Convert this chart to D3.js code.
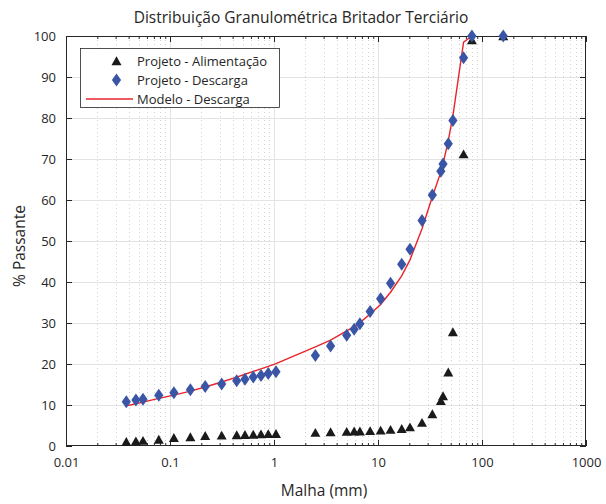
<!DOCTYPE html>
<html><head><meta charset="utf-8">
<script src="https://cdn.jsdelivr.net/npm/d3@7"></script>
<style>
body{margin:0;background:#fff;}
svg text{font-family:"Open Sans","Noto Sans",sans-serif;fill:#262626;}
</style></head>
<body>
<svg id="c" width="606" height="504"></svg>
<script>
const title = "Distribuição Granulométrica Britador Terciário";
const xLabel = "Malha (mm)";
const yLabel = "% Passante";
const xTicks = [0.01, 0.1, 1, 10, 100, 1000];
const xTickLabels = ["0.01", "0.1", "1", "10", "100", "1000"];
const yTicks = [0,10,20,30,40,50,60,70,80,90,100];
const seriesNames = ["Projeto - Alimentação", "Projeto - Descarga", "Modelo - Descarga"];

const sizes = [0.038,0.047,0.055,0.078,0.109,0.157,0.218,0.314,0.438,0.526,0.632,0.75,0.881,1.045,
  2.5,3.5,5.0,5.9,6.7,8.4,10.6,13.2,16.9,20.3,26.5,33.3,40.2,42.2,47.4,52.5,66.5,80,160];
const alimentacao = [1.05,1.2,1.3,1.6,2.0,2.2,2.5,2.6,2.7,2.75,2.8,2.9,2.95,3.0,
  3.25,3.4,3.5,3.6,3.6,3.7,3.8,4.0,4.2,4.6,5.7,7.8,11.0,12.2,18.0,27.8,71.2,99.0,100];
const descarga = [10.8,11.2,11.4,12.4,13.0,13.7,14.5,15.1,15.9,16.3,16.8,17.2,17.7,18.1,
  22.1,24.4,27.0,28.5,29.8,32.8,35.9,39.7,44.3,48.0,55.0,61.2,67.0,68.8,73.7,79.4,94.7,100,100];
const modeloSizes = sizes.slice(0, 32);
const modelo = [9.8,10.3,10.7,11.6,12.4,13.4,14.4,15.6,16.8,17.5,18.2,18.8,19.4,20.1,
  24.2,25.8,28.1,29.1,30.1,32.2,34.5,37.5,41.5,45.4,53.0,60.8,66.8,68.8,74.5,80.5,98.5,100];

const svg = d3.select("#c");
const L=66, R=586, T=36, B=446;
const x = d3.scaleLog().domain([0.01,1000]).range([L,R]);
const y = d3.scaleLinear().domain([0,100]).range([B,T]);

const minor = [];
for (let e=-2; e<3; e++) for (let m=2; m<10; m++) minor.push(m*Math.pow(10,e));

const g = svg.append("g");
g.selectAll(".mg").data(minor).join("line")
  .attr("x1",d=>Math.round(x(d))+0.5).attr("x2",d=>Math.round(x(d))+0.5)
  .attr("y1",T).attr("y2",B)
  .attr("stroke","#d2d2d2").attr("stroke-width",1).attr("stroke-dasharray","1,3");
g.selectAll(".xg").data(xTicks.slice(1,-1)).join("line")
  .attr("x1",d=>Math.round(x(d))+0.5).attr("x2",d=>Math.round(x(d))+0.5)
  .attr("y1",T).attr("y2",B).attr("stroke","#e3e3e3");
g.selectAll(".yg").data(yTicks.slice(1,-1)).join("line")
  .attr("y1",d=>Math.round(y(d))+0.5).attr("y2",d=>Math.round(y(d))+0.5)
  .attr("x1",L).attr("x2",R).attr("stroke","#e3e3e3");

const ax = d3.axisBottom(x).tickValues(xTicks).tickFormat((d,i)=>xTickLabels[i]).tickSizeInner(-6).tickSizeOuter(0).tickPadding(12);
const xa = svg.append("g").attr("transform",`translate(0,${B})`).call(ax);
xa.select(".domain").remove();
xa.selectAll("text").attr("font-size",13).attr("fill","#262626");
xa.selectAll("line").attr("stroke","#262626");
const axm = d3.axisBottom(x).tickValues(minor).tickFormat("").tickSizeInner(-3).tickSizeOuter(0);
const xam = svg.append("g").attr("transform",`translate(0,${B})`).call(axm);
xam.select(".domain").remove(); xam.selectAll("line").attr("stroke","#262626");
const axt = d3.axisTop(x).tickValues(xTicks).tickFormat("").tickSizeInner(-6).tickSizeOuter(0);
const xat = svg.append("g").attr("transform",`translate(0,${T})`).call(axt);
xat.select(".domain").remove(); xat.selectAll("line").attr("stroke","#262626");
const axtm = d3.axisTop(x).tickValues(minor).tickFormat("").tickSizeInner(-3).tickSizeOuter(0);
const xatm = svg.append("g").attr("transform",`translate(0,${T})`).call(axtm);
xatm.select(".domain").remove(); xatm.selectAll("line").attr("stroke","#262626");

const ay = d3.axisLeft(y).tickValues(yTicks).tickSizeInner(-6).tickSizeOuter(0).tickPadding(10);
const ya = svg.append("g").attr("transform",`translate(${L},0)`).call(ay);
ya.select(".domain").remove();
ya.selectAll("text").attr("font-size",13).attr("fill","#262626");
ya.selectAll("line").attr("stroke","#262626");
const ayr = d3.axisRight(y).tickValues(yTicks).tickFormat("").tickSizeInner(-6).tickSizeOuter(0);
const yar = svg.append("g").attr("transform",`translate(${R},0)`).call(ayr);
yar.select(".domain").remove(); yar.selectAll("line").attr("stroke","#262626");

svg.append("rect").attr("x",L+0.5).attr("y",T+0.5).attr("width",R-L-1).attr("height",B-T-1)
  .attr("fill","none").attr("stroke","#262626").attr("stroke-width",1);

const line = d3.line().x(d=>x(d[0])).y(d=>y(d[1]));
svg.append("path").datum(modeloSizes.map((s,i)=>[s,modelo[i]]))
  .attr("d",line).attr("fill","none").attr("stroke","#e8232a").attr("stroke-width",1.4);

const triPath = "M0,-4.7L5,4.2L-5,4.2Z";
const diaPath = "M0,-6.5L4.6,0L0,6.5L-4.6,0Z";
svg.append("g").selectAll("path").data(sizes.map((s,i)=>[s,alimentacao[i]])).join("path")
  .attr("transform",d=>`translate(${x(d[0])},${y(d[1])})`).attr("d",triPath).attr("fill","#1a1a1a");
svg.append("g").selectAll("path").data(sizes.map((s,i)=>[s,descarga[i]])).join("path")
  .attr("transform",d=>`translate(${x(d[0])},${y(d[1])})`).attr("d",diaPath).attr("fill","#3a55a5");

const lg = svg.append("g");
lg.append("rect").attr("x",80.5).attr("y",48.5).attr("width",199).attr("height",59)
  .attr("fill","#fff").attr("stroke","#262626").attr("stroke-width",0.8);
const rows=[61,80,99];
lg.append("path").attr("transform",`translate(116.5,${rows[0]})`).attr("d",triPath).attr("fill","#1a1a1a");
lg.append("path").attr("transform",`translate(116.5,${rows[1]})`).attr("d",diaPath).attr("fill","#3a55a5");
lg.append("line").attr("x1",86).attr("x2",133).attr("y1",rows[2]).attr("y2",rows[2]).attr("stroke","#e8232a").attr("stroke-width",1.4);
lg.selectAll("text").data(seriesNames).join("text").attr("x",137).attr("y",(d,i)=>rows[i]+4.5)
  .attr("font-size",13).text(d=>d);

svg.append("text").attr("x",301).attr("y",23).attr("text-anchor","middle").attr("font-size",15.5).text(title);
svg.append("text").attr("x",324).attr("y",496).attr("text-anchor","middle").attr("font-size",15.5).text(xLabel);
svg.append("text").attr("transform","translate(25,246) rotate(-90)").attr("text-anchor","middle").attr("font-size",15.5).text(yLabel);
</script>
</body></html>
